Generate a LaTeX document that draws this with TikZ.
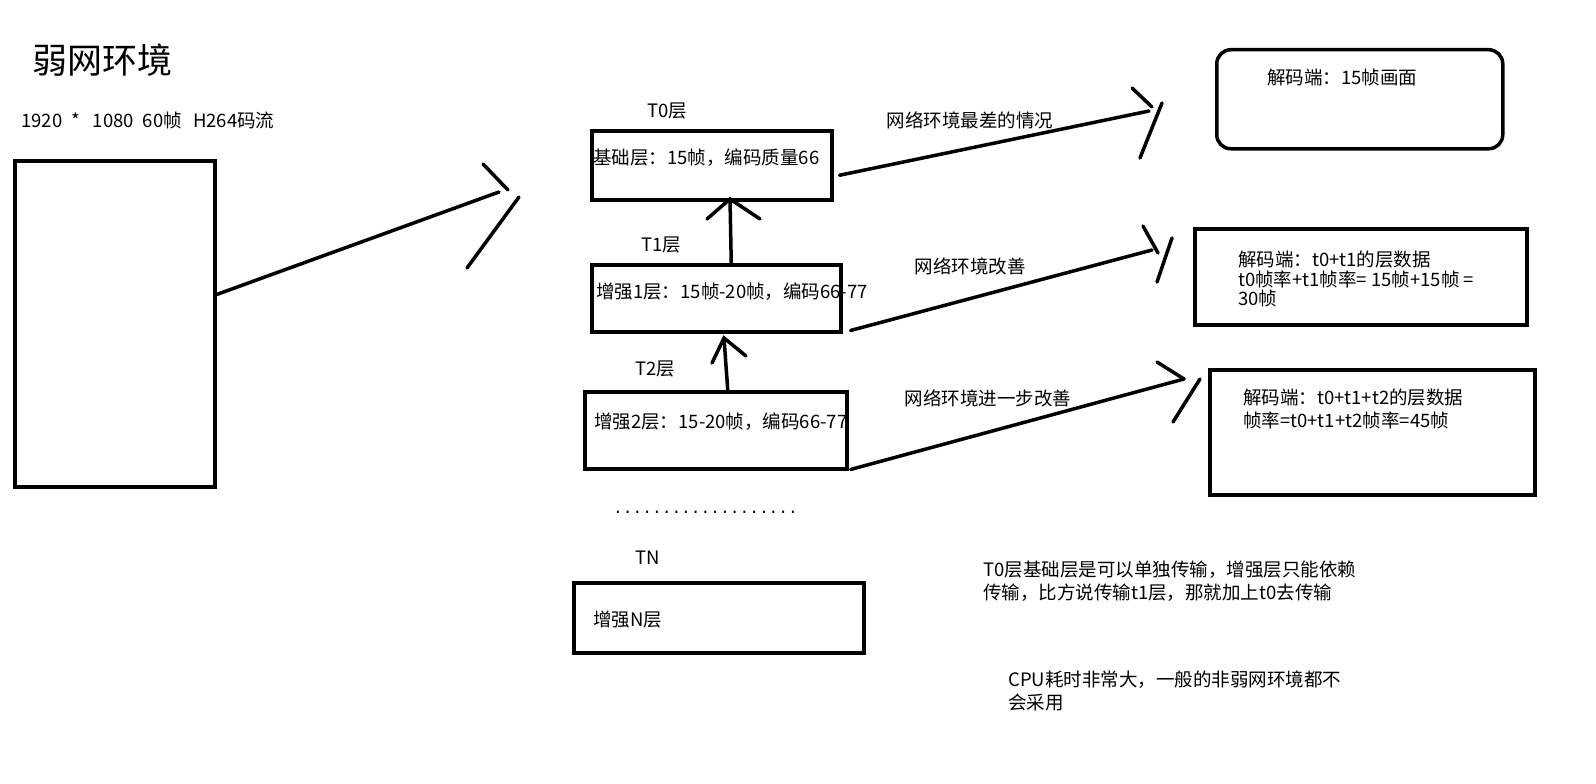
\documentclass[tikz,border=0pt]{standalone}
\usepackage{fontspec}
\setmainfont{Noto Sans CJK SC}
\newfontfamily\dotfont{Liberation Mono}
\begin{document}
\begin{tikzpicture}[x=1pt,y=-1pt,
  box/.style={draw, line width=3.5pt, anchor=north west, inner sep=0pt},
  conn/.style={line width=3.5pt, line cap=round},
  txt/.style={font=\fontsize{18.5}{22}\selectfont, inner sep=0pt, anchor=west},
  ctxt/.style={font=\fontsize{18.5}{22}\selectfont, inner sep=0pt},
]
\useasboundingbox (0,0) rectangle (1596,784);
\fill[white] (0,0) rectangle (1596,784);

% texts at top left
\node[txt, font=\fontsize{35}{40}\selectfont] (title) at (32,60) {弱网环境};
\node[txt] (info) at (21,120) {1920\hspace{9pt}*\hspace{13pt}1080\hspace{9pt}60帧\hspace{11pt}H264码流};

% boxes
\node[box, minimum width=200pt, minimum height=326pt] (src) at (13,159) {};
\node[box, minimum width=240pt, minimum height=69pt] (t0) at (590,129) {};
\node[box, minimum width=249pt, minimum height=67pt] (t1) at (590,263) {};
\node[box, minimum width=262pt, minimum height=77pt] (t2) at (583,390) {};
\node[box, minimum width=290pt, minimum height=70pt] (tn) at (572,581) {};
\node[box, rounded corners=14pt, minimum width=286pt, minimum height=99pt] (r1) at (1215,48) {};
\node[box, minimum width=332pt, minimum height=96pt] (r2) at (1193,227) {};
\node[box, minimum width=325pt, minimum height=125pt] (r3) at (1208,368) {};

% layer labels
\node[ctxt] (l0) at (667,111) {T0层};
\node[ctxt] (l1) at (661,245) {T1层};
\node[ctxt] (l2) at (655,369) {T2层};
\node[ctxt] (ln) at (648,558) {TN};

% box texts
\node[txt] (t0txt) at (593,158) {基础层：15帧，编码质量6\hspace{0pt}6};
\node[txt] (t1txt) at (596,292) {增强1层：15帧-20帧，编码66-77};
\node[txt] (t2txt) at (594,422) {增强2层：15-20帧，编码66-77};
\node[txt] (tntxt) at (593,620) {增强N层};
\node[txt] (r1txt) at (1267,77) {解码端：15帧画面};
\node[txt] (r2a) at (1238,260) {解码端：t0+t1的层数据};
\node[txt] (r2b) at (1238,279) {t0帧率+t1帧率= 15帧+15帧 =};
\node[txt] (r2c) at (1238,298) {30帧};
\node[txt] (r3a) at (1243,398) {解码端：t0+t1+t2的层数据};
\node[txt] (r3b) at (1243,420) {帧率=t0+t1+t2帧率=45帧};
\node[txt, font=\dotfont\fontsize{16.2}{20}\selectfont] (dots) at (613,512) {...................};

% notes
\node[txt] (n1) at (983,570) {T0层基础层是可以单独传输，增强层只能依赖};
\node[txt] (n2) at (983,593) {传输，比方说传输t1层，那就加上t0去传输};
\node[txt] (n3) at (1008,680) {CPU耗时非常大，一般的非弱网环境都不};
\node[txt] (n4) at (1008,703) {会采用};

% edge labels
\node[ctxt] (e1) at (970,120) {网络环境最差的情况};
\node[ctxt] (e2) at (970,266) {网络环境改善};
\node[ctxt] (e3) at (988,398) {网络环境进一步改善};

% connector end points
\coordinate (a0) at (499,192);
\coordinate (a1) at (1149,111);
\coordinate (a2) at (1152,250);
\coordinate (a3) at (1184,379);
\coordinate (u1) at (730,199);
\coordinate (u2) at (724,338);

% big arrow
\draw[conn] (src.16) -- (a0);
\draw[conn] (483,164) -- (508,190);
\draw[conn] (519,197) -- (467,268);

% T0 -> R1
\draw[conn] ([shift={(6,10)}]t0.east) -- (a1);
\draw[conn] (1132,88) -- (1152,107);
\draw[conn] (1162,103) -- (1140,158);

% T1 -> R2
\draw[conn] ([shift={(8,-3)}]t1.south east) -- (a2);
\draw[conn] (1143,226) -- (1158,253);
\draw[conn] (1172,238) -- (1157,282);

% T2 -> R3
\draw[conn] ([shift={(2,-1)}]t2.south east) -- (a3);
\draw[conn] (1157,362) -- (1184,379);
\draw[conn] (1200,379) -- (1173,422);

% vertical arrows
\draw[conn] ([xshift=15pt]t1.north) -- (u1);
\draw[conn] (707,219) -- (u1) -- (760,219);
\draw[conn] ([xshift=12pt]t2.north) -- (u2);
\draw[conn] (712,363) -- (u2) -- (746,356);
\end{tikzpicture}
\end{document}
